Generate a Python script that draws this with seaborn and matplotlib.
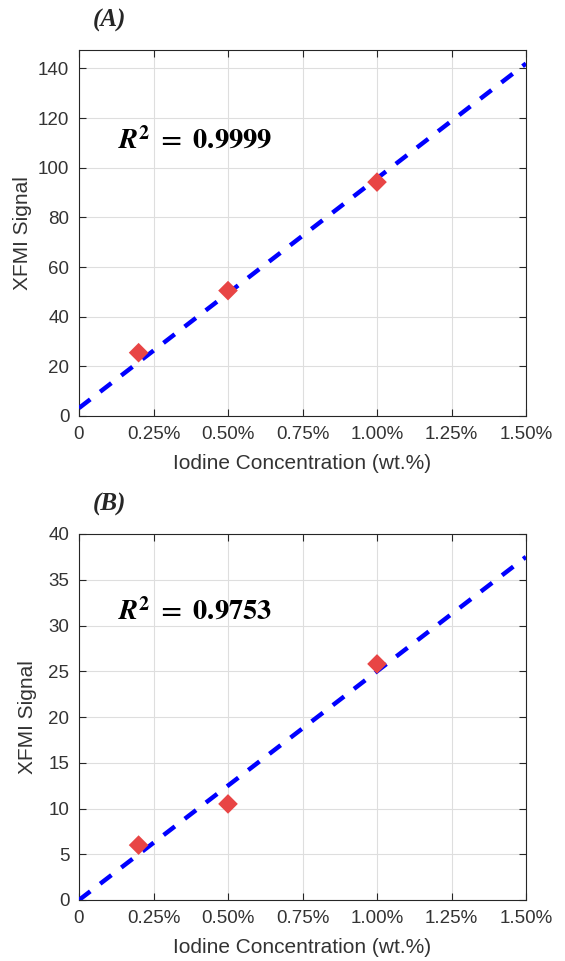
import numpy as np
import pandas as pd
import matplotlib
matplotlib.use("Agg")
import matplotlib.pyplot as plt
import seaborn as sns

# Data
conc = [0.2, 0.5, 1.0]                 # wt.%
signal_a = [25.5, 50.5, 94.2]
signal_b = [6.0, 10.5, 25.8]
fit_a = (92.5, 3.2)                    # slope, intercept
fit_b = (25.0, 0.0)
r2_a = "0.9999"
r2_b = "0.9753"
xticks = [0, 0.25, 0.5, 0.75, 1.0, 1.25, 1.5]
xticklabels = ["0", "0.25%", "0.50%", "0.75%", "1.00%", "1.25%", "1.50%"]
yticks_a = [0, 20, 40, 60, 80, 100, 120, 140]
yticks_b = [0, 5, 10, 15, 20, 25, 30, 35, 40]
panels = ["(A)", "(B)"]

sns.set_theme(style="white")
plt.rcParams['font.family'] = ['Liberation Sans', 'DejaVu Sans']
plt.rcParams['mathtext.fontset'] = 'stix'

fig = plt.figure(figsize=(5.65, 9.61), dpi=100)
axA = fig.add_axes([79/565, 1-416/961, 447/565, 366/961])
axB = fig.add_axes([79/565, 1-900/961, 447/565, 366/961])

txtc = '#333333'
for ax, sig, fit, r2, yt, ylim, panel, r2y, ylx in [
    (axA, signal_a, fit_a, r2_a, yticks_a, 147.4, panels[0], 111, -0.105),
    (axB, signal_b, fit_b, r2_b, yticks_b, 40, panels[1], 31.6, -0.095),
]:
    xs = np.array([0.0, 1.5])
    dfl = pd.DataFrame({"x": xs, "y": fit[0]*xs + fit[1]})
    sns.lineplot(data=dfl, x="x", y="y", ax=ax, color='#0000FF',
                 linestyle=(0, (3.2, 2.8)), linewidth=3.2, zorder=3)
    dfp = pd.DataFrame({"x": conc, "y": sig})
    sns.scatterplot(data=dfp, x="x", y="y", ax=ax, marker='D', s=100,
                    color='#E84545', edgecolor='none', zorder=4)
    ax.set_xlim(0, 1.5)
    ax.set_ylim(0, ylim)
    ax.set_xticks(xticks)
    ax.set_xticklabels(xticklabels)
    ax.set_yticks(yt)
    ax.grid(True, color='#dedede', linewidth=0.8)
    ax.set_axisbelow(True)
    for s in ax.spines.values():
        s.set_color('#262626')
        s.set_linewidth(0.8)
        s.set_visible(True)
    ax.tick_params(axis='both', direction='in', length=5, width=0.8,
                   colors='#262626', labelcolor=txtc, labelsize=13.5, top=True, right=True,
                   bottom=True, left=True, pad=7)
    ax.set_xlabel("Iodine Concentration (wt.%)", fontsize=15, color=txtc)
    ax.set_ylabel("XFMI Signal", fontsize=15, color=txtc)
    ax.xaxis.set_label_coords(0.5, -0.105)
    ax.yaxis.set_label_coords(ylx, 0.5)
    ax.text(0.13, r2y, r'$\boldsymbol{R}^{\mathbf{2}}\mathbf{\ =\ 0.' + r2[2:] + r'}$',
            fontsize=20.5, color='black', va='center', ha='left')
    bb = ax.get_position()
    fig.text(93/565, bb.y1 + 30/961, panel, fontsize=18, fontweight='bold',
             fontstyle='italic', family='Liberation Serif', va='center', ha='left')

fig.savefig("out.png", dpi=100)
